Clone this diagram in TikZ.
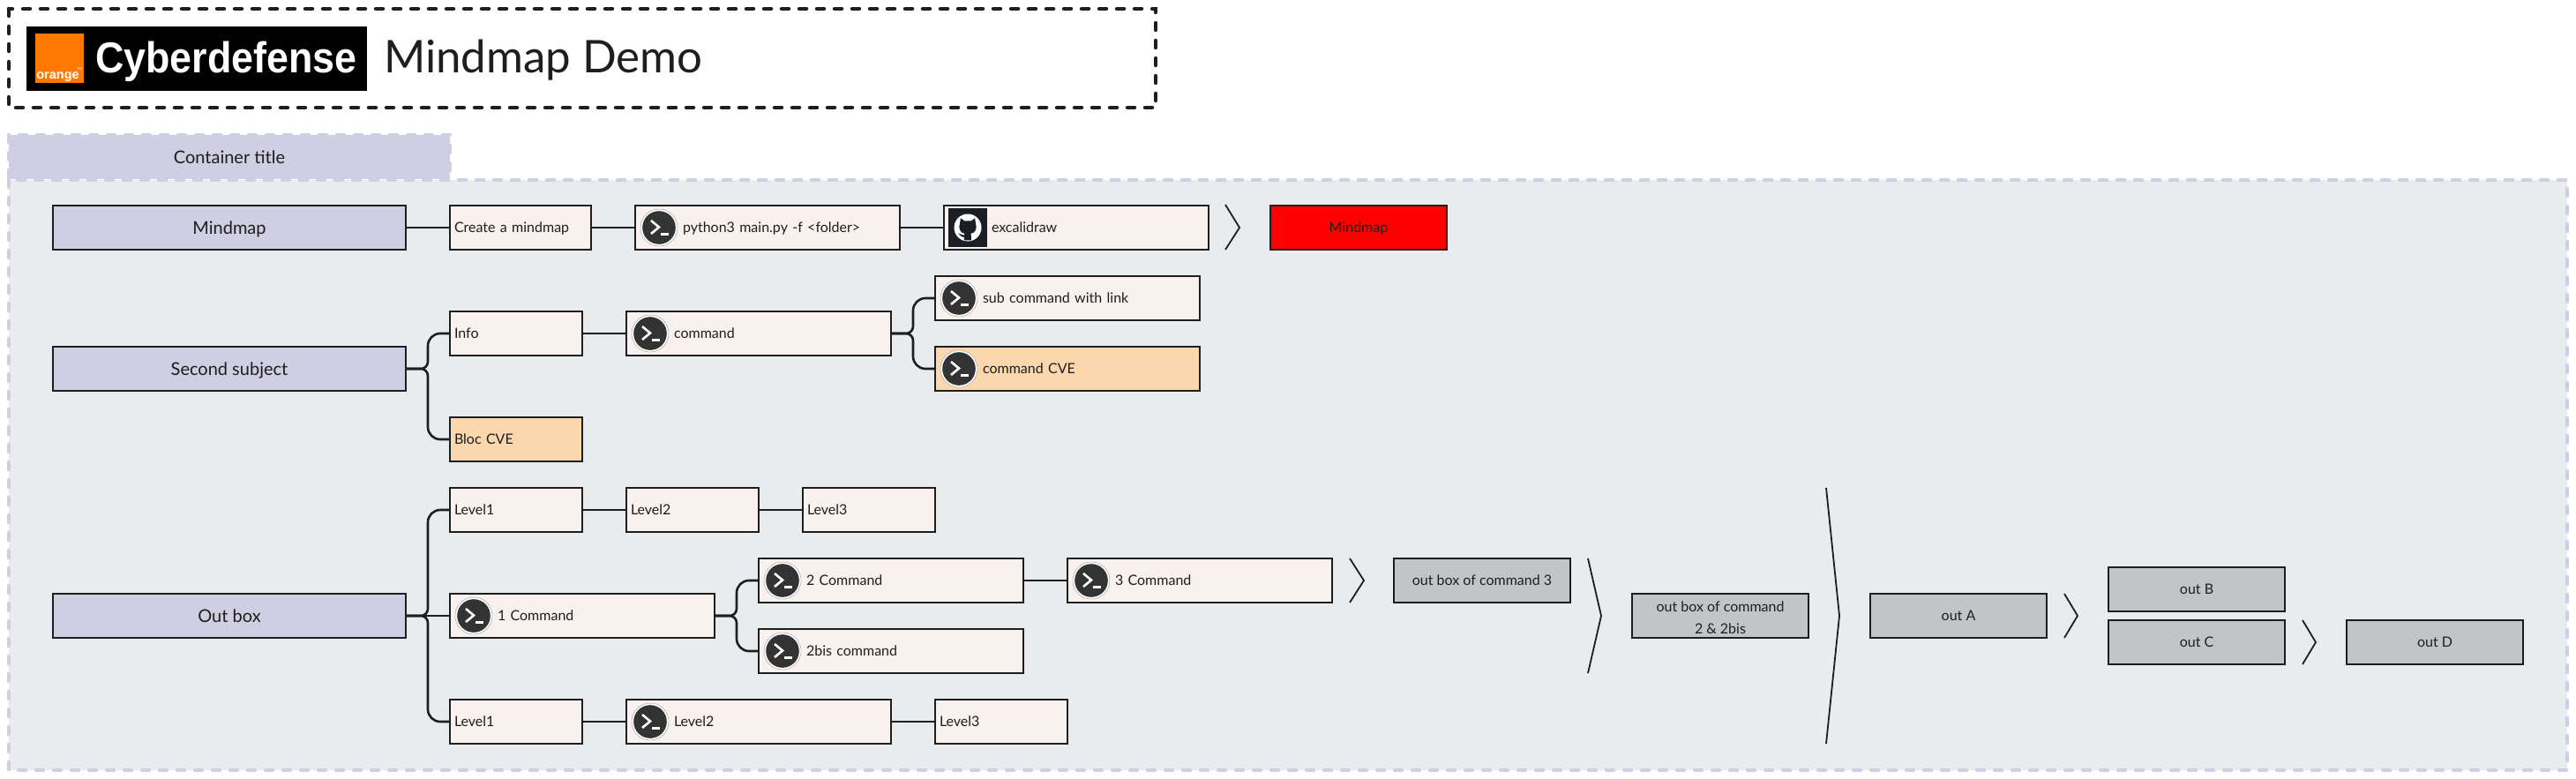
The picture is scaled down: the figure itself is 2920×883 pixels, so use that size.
\documentclass[tikz,border=0pt]{standalone}
\usepackage{fontspec}
\setmainfont{Lato}
\usetikzlibrary{calc}
\newfontfamily\logofont{Liberation Sans}[BoldFont={Liberation Sans Bold}]
\definecolor{ink}{HTML}{1E1E1E}
\definecolor{lilac}{HTML}{D0CEE2}
\definecolor{paper}{HTML}{F9F1EE}
\definecolor{cve}{HTML}{FAD7AC}
\definecolor{outgrey}{HTML}{C1C5C8}
\definecolor{panel}{HTML}{E9ECEF}
\definecolor{termdark}{HTML}{333333}
\definecolor{ghdark}{HTML}{1B1F23}
\definecolor{orangelogo}{HTML}{FF7900}
\newcommand\fs[1]{\fontsize{#1pt}{#1pt}\selectfont}
\newcommand\fork[2]{\draw[branch] (#1.east) [rounded corners=8pt] -- ++(25,0) [rounded corners=14pt] |- (#2.west);}
\tikzset{
  x=1pt,y=-1pt,
  bx/.style={draw=ink,line width=2.6pt,outer sep=0pt,inner sep=0pt,text=ink,minimum height=50pt},
  one/.style={text height=13.5pt,text depth=2.5pt},
  mainbox/.style={bx,text height=16pt,text depth=2pt,fill=lilac,minimum width=400pt,font=\fs{20}},
  leaf/.style={bx,one,fill=paper,font=\fs{16},minimum width=#1pt,text width=#1pt-10pt,align=left},
  cmdleaf/.style={leaf=#1,execute at begin node={\hspace*{49pt}}},
  cve/.style={fill=cve},
  outbox/.style={bx,one,fill=outgrey,minimum width=200pt,font=\fs{16}},
  outbox2/.style={bx,fill=outgrey,minimum width=200pt,font=\fs{16},align=center},
  link/.style={draw=ink,line width=2.6pt},
  branch/.style={draw=ink,line width=2.6pt},
  chevron/.style={draw=ink,line width=1.8pt,line join=miter},
  frameline/.style={line width=4.5pt,line cap=round,dash pattern=on 8pt off 12pt},
  termicon/.pic={
    \fill[white] (0,0) circle (21pt);
    \draw[gray!70,line width=.5pt] (0,0) circle (21pt);
    \fill[termdark] (0,0) circle (18.8pt);
    \draw[white,line width=2.6pt,line cap=butt,line join=miter] (-9,-8) -- (0,-0.5) -- (-9,7);
    \fill[white] (2,5.5) rectangle (11,8.5);
  },
  ghicon/.pic={
    \fill[ghdark] (-22,-22) rectangle (22,22);
    \fill[white] (0,0) circle (15.5pt);
    \begin{scope}[scale=.9]
    \fill[ghdark] (-9,-12) -- (-4.5,-8.5) -- (4.5,-8.5) -- (9,-12) -- (10,-5) .. controls (12,0) and (10,7) .. (4,7.5) -- (4.5,16) -- (-4.5,16) -- (-4.5,12) .. controls (-9,12) and (-10,9) .. (-12,7) .. controls (-9,8) and (-7,10) .. (-4.5,9.5) -- (-4,7.5) .. controls (-10,7) and (-12,0) .. (-10,-5) -- cycle;
    \end{scope}
  },
}
\begin{document}
\begin{tikzpicture}
\useasboundingbox (0,0) rectangle (2920,883);
% header
\coordinate (hA) at (10,10);
\coordinate (hB) at (1310,122);
\draw[ink,frameline] (hA) rectangle (hB);
\node[fill=black,minimum width=386pt,minimum height=73pt,inner sep=0pt,outer sep=0pt] (logo) at (223,66.5) {};
\node[fill=orangelogo,minimum width=55pt,minimum height=56pt,inner sep=0pt,outer sep=0pt] (logosq) at (67.5,66) {};
\node[text=white,font=\logofont\bfseries\fs{14.5},inner sep=0pt,anchor=base] (logoor) at (65.5,89) {orange};
\node[text=white,font=\logofont\fs{4},inner sep=0pt,anchor=base] (logotm) at (90,80) {TM};
\node[text=white,font=\logofont\bfseries\fs{49},inner sep=0pt,anchor=base west] (logotx) at (108,82.5) {\scalebox{.915}[1]{Cyberdefense}};
\node[text=ink,font=\fs{51},inner sep=0pt,anchor=base west] (title) at (435,82) {Mindmap Demo};
% container
\path[fill=panel] (10,204) rectangle (2910,873);
\draw[lilac,frameline] (10,204) rectangle (2910,873);
\path[fill=lilac] (10,153) rectangle (510,203);
\draw[lilac,frameline] (10,153) rectangle (510,203);
\node[text=ink,font=\fs{20},inner sep=0pt,anchor=base] (ctitle) at (260,185) {Container title};
% row 1
\node[mainbox] (m1) at (260,258) {Mindmap};
\node[leaf=160] (m2) at (590,258) {Create a mindmap};
\node[cmdleaf=300] (m3) at (870,258) {python3 main.py -f <folder>};
\node[cmdleaf=300] (m4) at (1220,258) {excalidraw};
\node[bx,one,fill=red,minimum width=200pt,font=\fs{16}] (m5) at (1540,258) {Mindmap};
\draw[link] (m1) -- (m2);
\draw[link] (m2) -- (m3);
\draw[link] (m3) -- (m4);
\pic at ($(m3.west)+(27,0)$) {termicon};
\pic at ($(m4.west)+(27,0)$) {ghicon};
% row 2
\node[mainbox] (s1) at (260,418) {Second subject};
\node[leaf=150] (s2) at (585,378) {Info};
\node[leaf=150,cve] (s3) at (585,498) {Bloc CVE};
\node[cmdleaf=300] (s4) at (860,378) {command};
\node[cmdleaf=300] (s5) at (1210,338) {sub command with link};
\node[cmdleaf=300,cve] (s6) at (1210,418) {command CVE};
\fork{s1}{s2}
\fork{s1}{s3}
\draw[link] (s2) -- (s4);
\fork{s4}{s5}
\fork{s4}{s6}
\pic at ($(s4.west)+(27,0)$) {termicon};
\pic at ($(s5.west)+(27,0)$) {termicon};
\pic at ($(s6.west)+(27,0)$) {termicon};
% row 3
\node[mainbox] (o1) at (260,698) {Out box};
\node[leaf=150] (a1) at (585,578) {Level1};
\node[leaf=150] (a2) at (785,578) {Level2};
\node[leaf=150] (a3) at (985,578) {Level3};
\node[cmdleaf=300] (b1) at (660,698) {1 Command};
\node[cmdleaf=300] (b2) at (1010,658) {2 Command};
\node[cmdleaf=300] (b3) at (1360,658) {3 Command};
\node[cmdleaf=300] (b4) at (1010,738) {2bis command};
\node[leaf=150] (c1) at (585,818) {Level1};
\node[cmdleaf=300] (c2) at (860,818) {Level2};
\node[leaf=150] (c3) at (1135,818) {Level3};
\node[outbox] (d1) at (1680,658) {out box of command 3};
\node[outbox2] (d2) at (1950,698) {\rule{0pt}{16pt}out box of command\\[9pt]2 \& 2bis};
\node[outbox] (d3) at (2220,698) {out A};
\node[outbox] (d4) at (2490,668) {out B};
\node[outbox] (d5) at (2490,728) {out C};
\node[outbox] (d6) at (2760,728) {out D};
\fork{o1}{a1}
\draw[link] (o1) -- (b1);
\fork{o1}{c1}
\draw[link] (a1) -- (a2);
\draw[link] (a2) -- (a3);
\fork{b1}{b2}
\fork{b1}{b4}
\draw[link] (b2) -- (b3);
\draw[link] (c1) -- (c2);
\draw[link] (c2) -- (c3);
\foreach \n in {b1,b2,b3,b4,c2} {\pic at ($(\n.west)+(27,0)$) {termicon};}
% chevrons
\draw[chevron] (1389,232) -- (1405,258) -- (1389,283);
\draw[chevron] (1530,633) -- (1546,658) -- (1530,683);
\draw[chevron] (1800,633) -- (1815,698) -- (1800,763);
\draw[chevron] (2070,553) -- (2085,698) -- (2070,843);
\draw[chevron] (2340,673) -- (2355,698) -- (2340,723);
\draw[chevron] (2610,703) -- (2625,728) -- (2610,753);
\end{tikzpicture}
\end{document}
